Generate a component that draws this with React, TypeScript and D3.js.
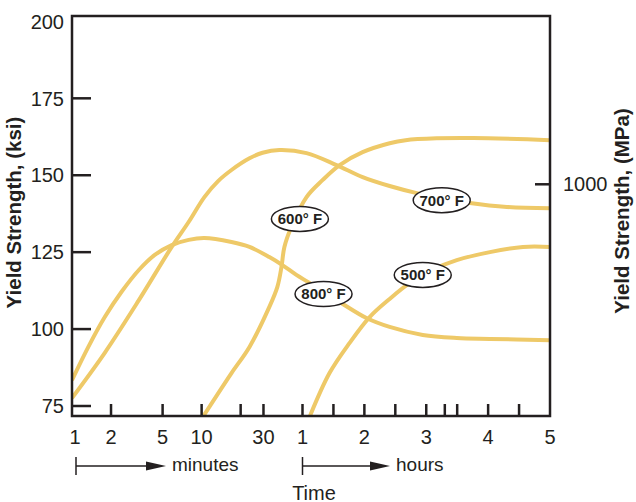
import * as d3 from "d3";

// time is in minutes throughout; the axis switches to hours after 60 min
const minuteTicks = [2, 5, 10, 20, 30];
const minuteLabels = [1, 2, 5, 10, 30];
const hourTicks = [1, 1.5, 2, 2.5, 3, 3.3, 3.5, 4, 4.5];
const hourLabels = [1, 2, 3, 4, 5];
const ksiTicks = [75, 100, 125, 150, 175];
const ksiLabels = [75, 100, 125, 150, 175, 200];
const mpaTicks = [1000];

// [minutes, ksi]
const curve800: [number, number][] = [
  [1, 83.4], [1.34, 94.3], [1.79, 103.9], [2.42, 112.2], [3.28, 119.2], [4.35, 124.1],
  [5.88, 127.3], [7.94, 129.0], [10.5, 129.6], [17, 128.3], [23.4, 126.7],
  [33.3, 123.4], [42, 120.8], [53.8, 117.6], [66.8, 115.0], [79.4, 112.2],
  [96, 108.8], [122, 103.6], [144.5, 100.7], [176.6, 98.1], [209.6, 97.1],
  [241.7, 96.8], [300, 96.4],
];
const curve700: [number, number][] = [
  [1, 77.6], [1.79, 92.3], [3.28, 109.4], [5.88, 126.7], [7.94, 134.8],
  [10.5, 142.9], [13.4, 148.1], [17, 151.7], [23.4, 155.5], [29.5, 157.3],
  [39.8, 158.2], [63.9, 157.2], [93, 153.3], [118.3, 149.4], [144.5, 146.5],
  [170.8, 144.2], [195, 142.6], [222.3, 141.0], [258.2, 139.7], [300, 139.3],
];
const curve600: [number, number][] = [
  [10.2, 71.4], [17, 85.7], [23.4, 94.2], [33.3, 107.2], [38.4, 113.7],
  [41.3, 120.2], [43.5, 126.7], [49.2, 133.2], [63.9, 142.9], [79.4, 148.4],
  [96, 153.3], [118.3, 157.5], [144.5, 160.4], [160, 161.4], [190, 162.0],
  [225.2, 162.1], [300, 161.4],
];
const curve500: [number, number][] = [
  [66.8, 71.4], [86.2, 85.7], [105.7, 95.5], [125.1, 103.9], [144.5, 109.8],
  [164, 115.0], [183.4, 118.9], [209.6, 122.4], [241.7, 125.0], [273.8, 126.7],
  [300, 126.7],
];
const curves = [curve800, curve700, curve600, curve500];

const labelNames = ["600° F", "800° F", "700° F", "500° F"];
const labelSpots: [number, number][] = [[57.3, 135.8], [80.4, 111.4], [195, 141.9], [176.6, 117.6]];

const mpaPerKsi = 6.8; // as placed on the printed chart

const W = 636;
const H = 502;
const left = 72;
const right = 550;
const top = 16;
const bottom = 416;
const ink = "#231f20";
const gold = "#eec968";
const font = "'Liberation Sans', Arial, sans-serif";

export default function App() {
  const xMin = d3.scaleLog().domain([1, 60]).range([left, 302.5]);
  const xHr = d3.scaleLinear().domain([1, 5]).range([302.5, right]);
  const x = (m: number) => (m <= 60 ? xMin(m) : xHr(m / 60));
  const y = d3.scaleLinear().domain([75, 200]).range([406, 21.4]);
  const yMpa = d3.scaleLinear().domain([75 * mpaPerKsi, 200 * mpaPerKsi]).range([406, 21.4]);

  const line = d3
    .line<[number, number]>()
    .x((d) => x(d[0]))
    .y((d) => y(d[1]))
    .curve(d3.curveCatmullRom.alpha(0.5));

  const arrowY = 466;

  return (
    <svg width={W} height={H} style={{ position: "absolute", left: 0, top: 0 }} fontFamily={font}>
      <defs>
        <clipPath id="plot">
          <rect x={left} y={top} width={right - left} height={bottom - top} />
        </clipPath>
      </defs>

      <g clipPath="url(#plot)">
        {curves.map((c, i) => (
          <path key={i} d={line(c) ?? ""} fill="none" stroke={gold} strokeWidth={4} />
        ))}
      </g>

      <rect x={left} y={top} width={right - left} height={bottom - top} fill="none" stroke={ink} strokeWidth={2.5} />

      {ksiTicks.map((v) => (
        <line key={v} x1={left} x2={left + 19} y1={y(v)} y2={y(v)} stroke={ink} strokeWidth={2.5} />
      ))}
      {ksiLabels.map((v) => (
        <text key={v} x={64} y={y(v)} dy="0.36em" textAnchor="end" fontSize={20} fill={ink}>
          {v}
        </text>
      ))}

      {mpaTicks.map((v) => (
        <g key={v}>
          <line x1={right - 15} x2={right} y1={yMpa(v)} y2={yMpa(v)} stroke={ink} strokeWidth={2.5} />
          <text x={563} y={yMpa(v)} dy="0.36em" fontSize={20} fill={ink}>
            {v}
          </text>
        </g>
      ))}

      {minuteTicks.map((v) => (
        <line key={"m" + v} x1={xMin(v)} x2={xMin(v)} y1={bottom} y2={bottom - 12} stroke={ink} strokeWidth={2.5} />
      ))}
      {hourTicks.map((v) => (
        <line key={"h" + v} x1={xHr(v)} x2={xHr(v)} y1={bottom} y2={bottom - 12} stroke={ink} strokeWidth={2.5} />
      ))}
      {minuteLabels.map((v) => (
        <text key={"ml" + v} x={xMin(v) + (v === 1 ? 3 : 0)} y={444} textAnchor="middle" fontSize={20} fill={ink}>
          {v}
        </text>
      ))}
      {hourLabels.map((v) => (
        <text key={"hl" + v} x={xHr(v)} y={444} textAnchor="middle" fontSize={20} fill={ink}>
          {v}
        </text>
      ))}

      {/* minutes / hours arrows */}
      {[
        { x0: xMin(1) + 4, x1: 166, label: "minutes" },
        { x0: xHr(1), x1: 390, label: "hours" },
      ].map((a) => (
        <g key={a.label}>
          <line x1={a.x0} x2={a.x0} y1={457} y2={475} stroke={ink} strokeWidth={1.5} />
          <line x1={a.x0} x2={a.x1 - 15} y1={arrowY} y2={arrowY} stroke={ink} strokeWidth={1.5} />
          <path d={`M${a.x1},${arrowY} L${a.x1 - 20},${arrowY - 4.5} L${a.x1 - 20},${arrowY + 4.5} Z`} fill={ink} />
          <text x={a.x1 + 6} y={471} fontSize={19} fill={ink}>
            {a.label}
          </text>
        </g>
      ))}

      <text x={314} y={499.5} textAnchor="middle" fontSize={20} fill={ink}>
        Time
      </text>

      <text
        transform={`translate(21,212.5) rotate(-90)`}
        textAnchor="middle"
        fontSize={20.5}
        fontWeight="bold"
        fill={ink}
      >
        Yield Strength, (ksi)
      </text>
      <text
        transform={`translate(628.5,211) rotate(-90)`}
        textAnchor="middle"
        fontSize={20.5}
        fontWeight="bold"
        fill={ink}
      >
        Yield Strength, (MPa)
      </text>

      {labelNames.map((name, i) => {
        const cx = x(labelSpots[i][0]);
        const cy = y(labelSpots[i][1]);
        return (
          <g key={name}>
            <ellipse cx={cx} cy={cy} rx={28.5} ry={12.5} fill="#fff" stroke={ink} strokeWidth={1.5} />
            <text x={cx} y={cy} dy="0.36em" textAnchor="middle" fontSize={15} fontWeight="bold" fill={ink}>
              {name}
            </text>
          </g>
        );
      })}
    </svg>
  );
}
